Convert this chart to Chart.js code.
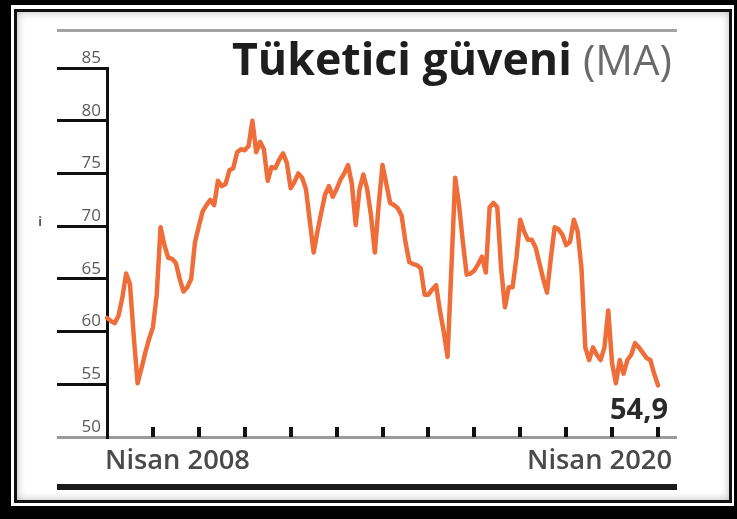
<!DOCTYPE html>
<html>
<head>
<meta charset="utf-8">
<script src="https://cdn.jsdelivr.net/npm/chart.js@4.4.1/dist/chart.umd.min.js"></script>
<style>
    body { margin: 0; background: #000; width: 737px; height: 519px; overflow: hidden; position: relative; }
    #outer { position: absolute; left: 11px; top: 5px; width: 723px; height: 501px; background: #fff; }
    #inner { position: absolute; left: 14px; top: 9px; width: 712px; height: 488px; border: 3px solid #111; background: #fff; box-shadow: inset 0 0 9px rgba(0,0,0,0.28); }
    #chart { position: absolute; left: 0; top: 0; z-index: 2; }
</style>
</head>
<body>
<div id="outer"></div>
<div id="inner"></div>
<canvas id="chart" width="737" height="519"></canvas>
<script>
// Tüketici güveni, Nisan 2008 - Nisan 2020 (aylık)
const months = [];
const monthNames = ['Oca', 'Şub', 'Mar', 'Nis', 'May', 'Haz', 'Tem', 'Ağu', 'Eyl', 'Eki', 'Kas', 'Ara'];
for (let i = 0; i < 145; i++) {
    const m = (3 + i) % 12;
    const y = 2008 + Math.floor((3 + i) / 12);
    months.push(monthNames[m] + ' ' + y);
}

const confidence = [
    61.3, 61.0, 60.8, 61.5, 63.2, 65.5, 64.5, 59.5, 55.1, 56.5,
    58.0, 59.3, 60.4, 63.5, 69.9, 68.2, 67.0, 66.9, 66.5, 65.0,
    63.8, 64.2, 65.0, 68.5, 70.0, 71.4, 72.0, 72.5, 72.0, 74.3,
    73.8, 74.0, 75.3, 75.5, 77.0, 77.3, 77.2, 77.6, 80.0, 77.0,
    78.0, 77.3, 74.3, 75.6, 75.5, 76.3, 76.9, 76.0, 73.6, 74.2,
    75.0, 74.6, 73.5, 70.5, 67.5, 69.5, 71.3, 73.0, 73.8, 72.8,
    73.5, 74.4, 75.0, 75.8, 74.0, 70.1, 73.5, 74.9, 73.5, 71.0,
    67.5, 72.0, 75.8, 74.0, 72.2, 72.0, 71.7, 71.0, 68.5, 66.6,
    66.4, 66.3, 66.0, 63.5, 63.5, 64.0, 64.4, 62.0, 60.0, 57.6,
    66.0, 74.6, 72.0, 68.5, 65.4, 65.5, 65.8, 66.4, 67.1, 65.6,
    71.8, 72.2, 71.8, 66.0, 62.3, 64.2, 64.2, 67.0, 70.6, 69.5,
    68.7, 68.7, 68.0, 66.5, 65.0, 63.7, 67.0, 69.9, 69.7, 69.2,
    68.2, 68.5, 70.6, 69.5, 66.0, 58.5, 57.3, 58.5, 57.8, 57.3,
    58.5, 62.0, 57.0, 55.1, 57.3, 56.0, 57.3, 57.8, 58.9, 58.5,
    58.0, 57.5, 57.3, 56.0, 54.9
];

const yTicks = [50, 55, 60, 65, 70, 75, 80, 85];
const yearTicks = [12, 24, 36, 48, 60, 72, 84, 96, 108, 120, 132, 144];
const firstLabel = 'Nisan 2008';
const lastLabel = 'Nisan 2020';
const lastValueLabel = '54,9';

const FONT = '"Open Sans", "Noto Sans", sans-serif';

function fitSize(ctx, text, weight, width) {
    ctx.font = `${weight} 40px ${FONT}`;
    return 40 * width / ctx.measureText(text).width;
}

const decor = {
    id: 'decor',
    beforeDraw(chart) {
        const ctx = chart.ctx;
        ctx.save();
        // top grey rule
        ctx.fillStyle = '#a3a3a3';
        ctx.fillRect(57, 29, 620, 3);
        // grey base line
        ctx.fillStyle = '#9a9a9a';
        ctx.fillRect(57, 436, 620, 3);
        // thick bottom bar
        ctx.fillStyle = '#1b1b1b';
        ctx.fillRect(57, 484, 620, 6);
        ctx.restore();
    },
    afterDraw(chart) {
        const ctx = chart.ctx;
        const xs = chart.scales.x;
        ctx.save();
        ctx.textBaseline = 'alphabetic';

        // title
        let s = fitSize(ctx, 'Tüketici güveni', 700, 340);
        ctx.font = `700 ${s}px ${FONT}`;
        ctx.fillStyle = '#1e1e1e';
        ctx.textAlign = 'left';
        ctx.fillText('Tüketici güveni', 232, 75);
        s = fitSize(ctx, '(MA)', 400, 89);
        ctx.font = `400 ${s}px ${FONT}`;
        ctx.fillStyle = '#6a6a6a';
        ctx.fillText('(MA)', 583, 75);

        // x labels
        s = fitSize(ctx, firstLabel, 600, 145);
        ctx.font = `600 ${s}px ${FONT}`;
        ctx.fillStyle = '#4a4a4a';
        ctx.textAlign = 'left';
        ctx.fillText(firstLabel, xs.getPixelForValue(0) - 2, 469);
        ctx.textAlign = 'right';
        ctx.fillText(lastLabel, xs.getPixelForValue(144) + 14, 469);

        // last value
        s = fitSize(ctx, lastValueLabel, 700, 58);
        ctx.font = `700 ${s}px ${FONT}`;
        ctx.fillStyle = '#2a2a2a';
        ctx.fillText(lastValueLabel, 668, 419);

        // stray mark on the left
        ctx.font = `700 12px ${FONT}`;
        ctx.fillStyle = '#555';
        ctx.textAlign = 'center';
        ctx.fillText('i', 40, 226);
        ctx.restore();
    }
};

new Chart(document.getElementById('chart'), {
    type: 'line',
    data: {
        labels: months,
        datasets: [{
            data: confidence,
            borderColor: '#ef6d38',
            borderWidth: 4.5,
            pointRadius: 0,
            tension: 0,
            borderJoinStyle: 'round',
            borderCapStyle: 'round',
            clip: false,
        }],
    },
    options: {
        responsive: false,
        animation: false,
        layout: {
            padding: { left: 57, right: 79, top: 68, bottom: 72 },
        },
        plugins: {
            legend: { display: false },
            tooltip: { enabled: false },
        },
        scales: {
            x: {
                type: 'category',
                afterBuildTicks: (scale) => {
                    scale.ticks = yearTicks.map((v) => ({ value: v }));
                },
                afterFit: (scale) => { scale.height = 10; },
                border: { display: false },
                grid: {
                    drawOnChartArea: false,
                    drawTicks: true,
                    tickLength: -10,
                    color: '#111',
                    lineWidth: 4,
                },
                ticks: { display: false, autoSkip: false },
            },
            y: {
                min: 50,
                max: 85,
                afterBuildTicks: (scale) => {
                    scale.ticks = yTicks.map((v) => ({ value: v }));
                },
                afterFit: (scale) => { scale.width = 50; },
                border: { display: true, color: '#111', width: 3 },
                grid: {
                    drawOnChartArea: false,
                    drawTicks: true,
                    tickLength: 50,
                    lineWidth: 3,
                    color: (ctx) => (ctx.tick && ctx.tick.value === 50 ? 'rgba(0,0,0,0)' : '#111'),
                },
                ticks: {
                    padding: -44,
                    labelOffset: -10,
                    color: '#5a5a5a',
                    font: { family: FONT, size: 17 },
                },
            },
        },
    },
    plugins: [decor],
});
</script>
</body>
</html>
